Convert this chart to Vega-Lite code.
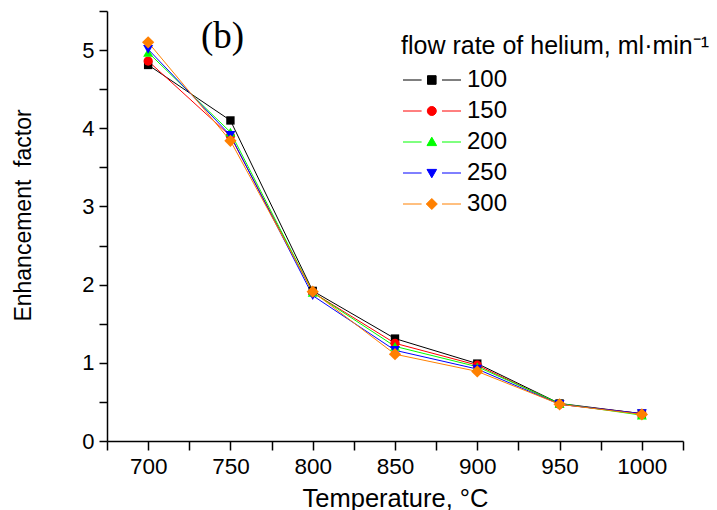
{
  "$schema": "https://vega.github.io/schema/vega-lite/v6.json",
  "width": 576,
  "height": 430,
  "autosize": {"type": "none"},
  "padding": {"left": 107, "top": 11, "right": 34, "bottom": 69},
  "background": "white",
  "title": {"text": "(b)", "anchor": "start", "frame": "group", "orient": "top", "offset": 0, "dx": 94, "dy": 85, "baseline": "alphabetic", "font": "Liberation Serif", "fontSize": 37, "fontWeight": "normal", "color": "black"},
  "config": {
    "view": {"stroke": null},
    "axis": {"grid": false, "domainColor": "black", "domainWidth": 1.5, "tickColor": "black", "tickWidth": 1.5, "labelColor": "black", "titleColor": "black", "labelFont": "Liberation Sans", "titleFont": "Liberation Sans", "titleFontWeight": "normal", "labelOverlap": false, "labelBound": false, "labelFlush": false}
  },
  "data": {"values": [
    {"T": 700, "E": 4.81, "rate": 100}, {"T": 750, "E": 4.10, "rate": 100}, {"T": 800, "E": 1.92, "rate": 100}, {"T": 850, "E": 1.31, "rate": 100}, {"T": 900, "E": 0.99, "rate": 100}, {"T": 950, "E": 0.48, "rate": 100}, {"T": 1000, "E": 0.35, "rate": 100},
    {"T": 700, "E": 4.86, "rate": 150}, {"T": 750, "E": 3.90, "rate": 150}, {"T": 800, "E": 1.90, "rate": 150}, {"T": 850, "E": 1.25, "rate": 150}, {"T": 900, "E": 0.97, "rate": 150}, {"T": 950, "E": 0.47, "rate": 150}, {"T": 1000, "E": 0.35, "rate": 150},
    {"T": 700, "E": 4.97, "rate": 200}, {"T": 750, "E": 3.95, "rate": 200}, {"T": 800, "E": 1.90, "rate": 200}, {"T": 850, "E": 1.21, "rate": 200}, {"T": 900, "E": 0.95, "rate": 200}, {"T": 950, "E": 0.48, "rate": 200}, {"T": 1000, "E": 0.33, "rate": 200},
    {"T": 700, "E": 5.01, "rate": 250}, {"T": 750, "E": 3.91, "rate": 250}, {"T": 800, "E": 1.86, "rate": 250}, {"T": 850, "E": 1.16, "rate": 250}, {"T": 900, "E": 0.92, "rate": 250}, {"T": 950, "E": 0.47, "rate": 250}, {"T": 1000, "E": 0.35, "rate": 250},
    {"T": 700, "E": 5.10, "rate": 300}, {"T": 750, "E": 3.84, "rate": 300}, {"T": 800, "E": 1.91, "rate": 300}, {"T": 850, "E": 1.11, "rate": 300}, {"T": 900, "E": 0.89, "rate": 300}, {"T": 950, "E": 0.47, "rate": 300}, {"T": 1000, "E": 0.34, "rate": 300}
  ]},
  "encoding": {
    "x": {"field": "T", "type": "quantitative", "scale": {"domain": [675, 1025], "nice": false, "zero": false},
      "axis": {"title": "Temperature, °C", "values": [675, 700, 725, 750, 775, 800, 825, 850, 875, 900, 925, 950, 975, 1000, 1025],
        "labelExpr": "datum.value % 50 == 0 ? format(datum.value, 'd') : ''", "labelFontSize": 22.5, "labelPadding": 5, "tickSize": 9,
        "titleFontSize": 25.5, "titleBaseline": "alphabetic", "titleY": 65,
        "encode": {"ticks": {"update": {"y2": {"signal": "datum.value % 50 == 0 ? 9 : 4.5"}}}}}},
    "y": {"field": "E", "type": "quantitative", "scale": {"domain": [0, 5.5], "nice": false},
      "axis": {"title": "Enhancement\u00a0 factor", "values": [0, 0.5, 1, 1.5, 2, 2.5, 3, 3.5, 4, 4.5, 5, 5.5],
        "labelExpr": "datum.value % 1 == 0 ? format(datum.value, 'd') : ''", "labelFontSize": 22, "labelPadding": 5, "tickSize": 8,
        "titleFontSize": 23, "titleAngle": 270, "titleBaseline": "alphabetic", "titleX": -77, "titleY": 204, "titleAlign": "center",
        "encode": {"ticks": {"update": {"x2": {"signal": "datum.value % 1 == 0 ? -8 : -4.5"}}}}}}
  },
  "layer": [
    {"mark": {"type": "line", "strokeWidth": 1},
      "encoding": {
        "color": {"field": "rate", "type": "nominal",
          "scale": {"domain": [100, 150, 200, 250, 300], "range": ["#000000", "#FF0000", "#00FF00", "#0000FF", "#FF8000"]},
          "legend": {"title": "flow rate of helium, ml·min⁻¹", "orient": "none", "legendX": 294, "legendY": 23, "padding": 0,
            "titleFont": "Liberation Sans", "titleFontSize": 25, "titleFontWeight": "normal", "titleColor": "black", "titleLimit": 500, "titlePadding": 9,
            "labelFont": "Liberation Sans", "labelFontSize": 24, "labelColor": "black", "labelOffset": 42, "labelLimit": 200,
            "symbolSize": 400, "rowPadding": 7, "symbolStrokeWidth": 1,
            "encode": {"symbols": {"update": {
              "shape": {"signal": "datum.value == 100 ? 'M-1,0H0.86M2.9,0H4.8M1.45,-0.43H2.31V0.43H1.45Z' : datum.value == 150 ? 'M-1,0H0.86M2.9,0H4.8M1.43,0A0.45,0.45 0 1,0 2.33,0A0.45,0.45 0 1,0 1.43,0Z' : datum.value == 200 ? 'M-1,0H0.86M2.9,0H4.8M1.88,-0.48L2.36,0.36H1.4Z' : datum.value == 250 ? 'M-1,0H0.86M2.9,0H4.8M1.88,0.48L2.36,-0.36H1.4Z' : 'M-1,0H0.86M2.9,0H4.8M1.88,-0.55L2.43,0L1.88,0.55L1.33,0Z'"},
              "fill": {"scale": "color", "field": "value"},
              "stroke": {"scale": "color", "field": "value"},
              "strokeWidth": {"value": 1},
              "opacity": {"value": 1},
              "size": {"value": 400}
            }}}}}
      }},
    {"transform": [{"filter": "datum.rate == 100"}], "mark": {"type": "point", "shape": "square", "filled": true, "opacity": 1, "color": "#000000", "size": 70}},
    {"transform": [{"filter": "datum.rate == 150"}], "mark": {"type": "point", "shape": "circle", "filled": true, "opacity": 1, "color": "#FF0000", "size": 85}},
    {"transform": [{"filter": "datum.rate == 200"}], "mark": {"type": "point", "shape": "triangle-up", "filled": true, "opacity": 1, "color": "#00FF00", "size": 100}},
    {"transform": [{"filter": "datum.rate == 250"}], "mark": {"type": "point", "shape": "triangle-down", "filled": true, "opacity": 1, "color": "#0000FF", "size": 100}},
    {"transform": [{"filter": "datum.rate == 300"}], "mark": {"type": "point", "shape": "diamond", "filled": true, "opacity": 1, "color": "#FF8000", "size": 150}}
  ]
}
